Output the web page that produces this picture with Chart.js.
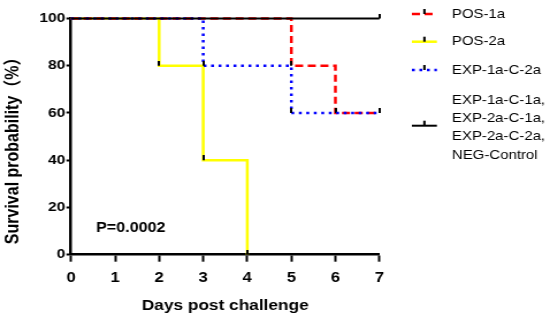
<!DOCTYPE html>
<html lang="en">
<head>
  <meta charset="UTF-8">
  <title>Survival after challenge</title>
  <script src="https://cdn.jsdelivr.net/npm/chart.js"></script>
  <style>
    html, body { margin: 0; padding: 0; background: #fff; overflow: hidden; }
    /* the original figure is stretched sideways a little */
    #wrap { width: 478px; height: 317px; transform: scaleX(1.1506); transform-origin: 0 0; }
  </style>
</head>
<body>
<div id="wrap"><canvas id="km" width="478" height="317"></canvas></div>

<script>
  // axis ticks
  const dayTicks = [0, 1, 2, 3, 4, 5, 6, 7];
  const survivalTicks = [0, 20, 40, 60, 80, 100];

  // Kaplan-Meier steps (day, % surviving)
  const pos1aDays = [0, 5, 6, 7];
  const pos1aSurv = [100, 80, 60, 60];
  const pos2aDays = [0, 2, 3, 4];
  const pos2aSurv = [100, 80, 40, 0];
  const exp1aC2aDays = [0, 3, 5, 7];
  const exp1aC2aSurv = [100, 80, 60, 60];
  const otherDays = [0, 7];
  const otherSurv = [100, 100];

  const pValueText = 'P=0.0002';

  const FONT = '"Liberation Sans", Arial, "Noto Sans CJK SC", sans-serif';

  // little black censor tick that sits on top of the line
  const censorMark = document.createElement('canvas');
  censorMark.width = 2;
  censorMark.height = 10;
  const cm = censorMark.getContext('2d');
  cm.fillStyle = '#000';
  cm.fillRect(0, 0, 2, 5);

  function kmSet(label, days, surv, color, width, dash, order) {
    return {
      label: label,
      data: days.map((d, i) => ({ x: d, y: surv[i] })),
      borderColor: color,
      backgroundColor: color,
      borderWidth: width,
      borderDash: dash,
      borderCapStyle: 'butt',
      stepped: true,
      fill: false,
      clip: false,
      pointStyle: censorMark,
      pointRadius: days.map((d, i) => i === 0 ? 0 : 3),
      pointHoverRadius: 0,
      order: order
    };
  }

  const datasets = [
    kmSet('POS-1a', pos1aDays, pos1aSurv, '#ff0000', 2.5, [7, 4], 2),
    kmSet('POS-2a', pos2aDays, pos2aSurv, '#ffff00', 2.5, [], 3),
    kmSet('EXP-1a-C-2a', exp1aC2aDays, exp1aC2aSurv, '#0000ff', 2.5, [2.5, 4], 1),
    kmSet(['EXP-1a-C-1a,', 'EXP-2a-C-1a,', 'EXP-2a-C-2a,', 'NEG-Control'],
          otherDays, otherSurv, '#000000', 2, [], 0)
  ];

  // legend drawn by hand: line sample with censor tick, then text
  const legendRows = [
    { ds: 0, symY: 14, textY: [14] },
    { ds: 1, symY: 41.7, textY: [41.7] },
    { ds: 2, symY: 70, textY: [70] },
    { ds: 3, symY: 125.7, textY: [100, 118.3, 136.7, 155] }
  ];

  const extrasPlugin = {
    id: 'extras',
    afterDraw(chart) {
      const ctx = chart.ctx;
      const xs = chart.scales.x, ys = chart.scales.y;
      ctx.save();

      // p value
      ctx.fillStyle = '#000';
      ctx.font = 'bold 14px ' + FONT;
      ctx.textBaseline = 'alphabetic';
      ctx.textAlign = 'left';
      ctx.fillText(pValueText, xs.getPixelForValue(0.57), ys.getPixelForValue(9.7));

      // legend
      const x0 = 358, x1 = 379.7, tx = 392.8;
      legendRows.forEach(row => {
        const ds = chart.data.datasets[row.ds];
        ctx.save();
        ctx.strokeStyle = ds.borderColor;
        ctx.lineWidth = ds.borderWidth;
        ctx.setLineDash(ds.borderDash);
        ctx.beginPath();
        ctx.moveTo(x0, row.symY);
        ctx.lineTo(x1, row.symY);
        ctx.stroke();
        ctx.restore();
        ctx.fillStyle = '#000';
        ctx.fillRect((x0 + x1) / 2 - 1, row.symY - 5, 2, 5);

        const lines = Array.isArray(ds.label) ? ds.label : [ds.label];
        ctx.font = '13px ' + FONT;
        ctx.textBaseline = 'middle';
        lines.forEach((t, i) => ctx.fillText(t, tx, row.textY[i]));
      });
      ctx.restore();
    }
  };

  new Chart(document.getElementById('km'), {
    type: 'line',
    data: { datasets: datasets },
    plugins: [extrasPlugin],
    options: {
      responsive: false,
      animation: false,
      events: [],
      layout: { padding: { top: 18.5, right: 148.2, left: 0, bottom: 0 } },
      plugins: { legend: { display: false }, tooltip: { enabled: false } },
      scales: {
        x: {
          type: 'linear',
          min: 0,
          max: 7,
          afterBuildTicks: s => { s.ticks = dayTicks.map(v => ({ value: v })); },
          afterFit: s => { s.height = 62.3; },
          grid: { drawOnChartArea: false, drawTicks: true, tickLength: 7, tickWidth: 2, tickColor: '#000' },
          border: { display: true, color: '#000', width: 2.5 },
          ticks: { color: '#000', padding: 8, maxRotation: 0, autoSkip: false,
                   font: { family: FONT, size: 14.5, weight: 'bold' } },
          title: { display: true, text: 'Days post challenge', color: '#000',
                   font: { family: FONT, size: 15, weight: 'bold' }, padding: { top: 0, bottom: 2.5 } }
        },
        y: {
          type: 'linear',
          min: 0,
          max: 100,
          afterBuildTicks: s => { s.ticks = survivalTicks.map(v => ({ value: v })); },
          afterFit: s => { s.width = 61.7; },
          grid: { drawOnChartArea: false, drawTicks: true, tickLength: 4, tickWidth: 2, tickColor: '#000' },
          border: { display: true, color: '#000', width: 2.5 },
          ticks: { color: '#000', padding: 1, font: { family: FONT, size: 13.5, weight: 'bold' } },
          title: { display: true, text: 'Survival probability（%） \u2003', color: '#000',
                   font: { family: FONT, size: 16, weight: 'bold' }, padding: { top: 2.3, bottom: 0 } }
        }
      }
    }
  });
</script>
</body>
</html>
